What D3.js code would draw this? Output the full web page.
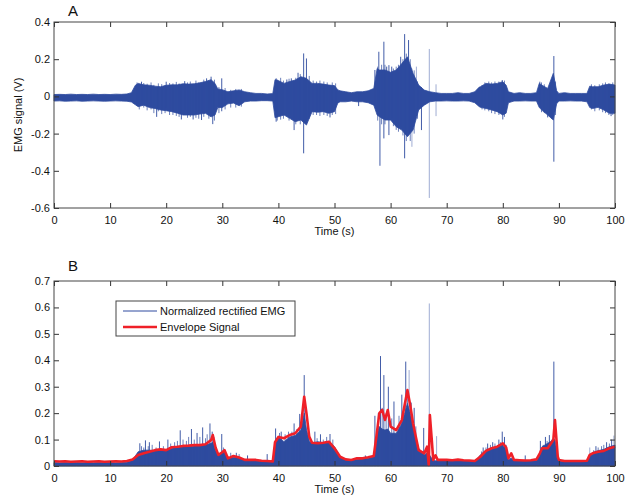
<!DOCTYPE html>
<html>
<head>
<meta charset="utf-8">
<script src="https://cdn.jsdelivr.net/npm/d3@7"></script>
<style>
  body { margin: 0; background: #fff; }
  svg text { font-family: "Liberation Sans", Arial, sans-serif; fill: #111; }
</style>
</head>
<body>
<svg id="chart" width="637" height="500"></svg>
<script>
const timeA = [0,1,2,3,4,5,6,7,8,9,10,11,12,13,13.8,14.5,15,16,17,18,19,20,21,22,23,24,25,26,27,28,28.7,29.2,30,31,32,33,34,35,36,37,38,39,39.4,40,41,42,43,44,45,46,47,48,49,50,50.6,51,52,53,54,55,56,57,57.6,58,59,60,61,62,63,64,65,66,67,68,69,70,71,72,73,74,75,75.8,76,77,78,79,80,80.6,81,82,83,84,85,86,86.5,87,88,89,89.6,90,91,92,93,94,95,95.5,96,97,98,99,100];
const upperA = [0.010,0.011,0.010,0.012,0.010,0.011,0.010,0.012,0.010,0.011,0.010,0.012,0.011,0.013,0.020,0.060,0.070,0.062,0.060,0.055,0.052,0.060,0.062,0.062,0.068,0.066,0.068,0.073,0.080,0.090,0.070,0.040,0.036,0.025,0.030,0.035,0.025,0.020,0.016,0.016,0.013,0.015,0.090,0.085,0.070,0.080,0.088,0.106,0.097,0.070,0.070,0.066,0.061,0.058,0.035,0.030,0.025,0.020,0.025,0.025,0.030,0.043,0.150,0.142,0.142,0.130,0.142,0.177,0.213,0.124,0.061,0.034,0.025,0.020,0.016,0.016,0.016,0.020,0.016,0.016,0.025,0.050,0.052,0.070,0.066,0.070,0.079,0.060,0.025,0.016,0.020,0.016,0.016,0.020,0.070,0.060,0.043,0.124,0.030,0.016,0.020,0.016,0.016,0.016,0.016,0.055,0.052,0.052,0.061,0.066,0.061];
const lowerA = [-0.025,-0.024,-0.026,-0.025,-0.024,-0.026,-0.025,-0.024,-0.025,-0.026,-0.025,-0.024,-0.025,-0.026,-0.030,-0.045,-0.055,-0.047,-0.060,-0.065,-0.073,-0.077,-0.082,-0.090,-0.100,-0.100,-0.100,-0.095,-0.091,-0.110,-0.100,-0.060,-0.060,-0.040,-0.036,-0.050,-0.029,-0.025,-0.025,-0.023,-0.023,-0.025,-0.115,-0.109,-0.100,-0.118,-0.136,-0.127,-0.154,-0.082,-0.085,-0.082,-0.091,-0.082,-0.035,-0.029,-0.029,-0.025,-0.029,-0.029,-0.034,-0.047,-0.100,-0.109,-0.127,-0.127,-0.163,-0.181,-0.217,-0.181,-0.073,-0.047,-0.029,-0.025,-0.025,-0.024,-0.025,-0.025,-0.024,-0.025,-0.034,-0.055,-0.059,-0.065,-0.073,-0.082,-0.100,-0.090,-0.034,-0.025,-0.025,-0.024,-0.025,-0.025,-0.060,-0.075,-0.100,-0.127,-0.040,-0.025,-0.025,-0.024,-0.025,-0.025,-0.029,-0.060,-0.065,-0.059,-0.073,-0.091,-0.091];
// isolated spikes: [time, top, bottom]
const spikesA = [[15.6,0.079,-0.03],[18.3,0.05,-0.11],[20.0,0.079,-0.06],[22.7,0.06,-0.124],[23.3,0.082,-0.07],[24.8,0.06,-0.124],[26.3,0.06,-0.127],[27.2,0.097,-0.08],[28.0,0.106,-0.1],[28.3,0.08,-0.149],[29.9,0.097,-0.08],[39.6,0.097,-0.136],[41.5,0.091,-0.09],[42.3,0.097,-0.1],[42.8,0.08,-0.181],[43.5,0.127,-0.12],[44.5,0.231,-0.306],[45.0,0.204,-0.14],[49.2,0.06,-0.113],[54.3,0.02,-0.052],[57.2,0.142,-0.04],[57.9,0.240,-0.1],[58.1,0.14,-0.373],[58.8,0.294,-0.226],[59.3,0.160,-0.12],[59.7,0.168,-0.208],[60.2,0.160,-0.12],[61.8,0.213,-0.16],[62.5,0.335,-0.333],[63.2,0.303,-0.2],[65.5,0.05,-0.181],[79.9,0.088,-0.08],[80.0,0.07,-0.124],[86.6,0.079,-0.05],[88.0,0.04,-0.113],[89.1,0.217,-0.351],[99.3,0.06,-0.106]];
const faintSpikesA = [[63.8,0.15,-0.271],[64.6,0.160,-0.1],[66.9,0.255,-0.546],[68.1,0.065,-0.106]];
// short hairs sticking out of the dense band
const hairsA = [[14.8,0.075,-0.05],[15.2,0.065,-0.07],[16.0,0.072,-0.06],[16.6,0.068,-0.075],[17.3,0.075,-0.07],[17.8,0.062,-0.09],[18.6,0.07,-0.08],[19.2,0.066,-0.095],[19.8,0.06,-0.09],[20.6,0.072,-0.1],[21.2,0.07,-0.1],[21.8,0.078,-0.105],[22.3,0.07,-0.11],[23.8,0.075,-0.115],[24.3,0.08,-0.11],[25.3,0.085,-0.115],[25.8,0.075,-0.12],[26.7,0.09,-0.11],[27.6,0.085,-0.12],[28.6,0.09,-0.13],[29.4,0.05,-0.09],[30.5,0.045,-0.07],[31.5,0.035,-0.06],[32.4,0.04,-0.06],[33.4,0.04,-0.055],[39.8,0.09,-0.13],[40.4,0.1,-0.125],[40.9,0.085,-0.12],[41.9,0.095,-0.13],[43.1,0.1,-0.15],[43.9,0.12,-0.15],[45.5,0.11,-0.12],[46.2,0.085,-0.1],[46.8,0.08,-0.1],[47.4,0.085,-0.105],[48.1,0.08,-0.1],[48.7,0.075,-0.105],[49.6,0.075,-0.1],[50.2,0.07,-0.095],[57.7,0.16,-0.13],[58.4,0.17,-0.15],[59.0,0.17,-0.15],[60.5,0.15,-0.16],[61.0,0.16,-0.18],[61.4,0.17,-0.19],[62.2,0.2,-0.21],[62.8,0.23,-0.24],[63.5,0.2,-0.24],[64.2,0.14,-0.2],[64.8,0.08,-0.12],[76.3,0.06,-0.07],[76.8,0.075,-0.075],[77.5,0.08,-0.08],[78.0,0.075,-0.09],[78.6,0.08,-0.095],[79.3,0.08,-0.1],[80.3,0.085,-0.11],[86.9,0.075,-0.085],[87.4,0.065,-0.09],[88.4,0.06,-0.11],[88.7,0.09,-0.12],[89.4,0.08,-0.1],[95.8,0.065,-0.07],[96.4,0.06,-0.08],[97.2,0.065,-0.075],[97.8,0.07,-0.085],[98.3,0.075,-0.09],[98.9,0.07,-0.1],[99.6,0.075,-0.1]];
const ticksXA = [0,10,20,30,40,50,60,70,80,90,100];
const ticksYA = [-0.6,-0.4,-0.2,0,0.2,0.4];

// ---- Panel B: rectified EMG (dense top) and envelope ----
const timeB = [0,1,2,3,4,5,6,7,8,9,10,11,12,13,14,15,16,17,18,19,20,21,22,23,24,25,26,27,28,28.3,28.8,29.3,30,30.4,31,32,33,34,35,36,37,38,39,39.4,40,41,42,43,44,44.6,45,45.5,46,47,48,49,50,51,52,53,54,55,56,57,57.5,58,58.5,59,59.5,60,61,62,63,63.5,64,65,66,66.5,66.8,67.0,67.3,67.6,68,68.4,69,70,71,72,73,74,75,76,77,78,79,80,80.6,81,81.5,82,83,84,85,86,86.6,87,88,89,89.3,89.8,90,91,92,93,94,95,95.5,96,97,98,99,100];
const rectB = [0.013,0.012,0.013,0.012,0.013,0.012,0.013,0.012,0.013,0.012,0.013,0.012,0.013,0.014,0.022,0.054,0.060,0.060,0.058,0.058,0.060,0.067,0.070,0.073,0.073,0.076,0.079,0.079,0.086,0.090,0.060,0.045,0.050,0.055,0.028,0.033,0.030,0.023,0.019,0.020,0.019,0.017,0.017,0.090,0.110,0.092,0.110,0.115,0.136,0.200,0.140,0.095,0.086,0.092,0.088,0.092,0.073,0.035,0.023,0.023,0.025,0.029,0.029,0.035,0.110,0.149,0.140,0.136,0.140,0.124,0.124,0.161,0.237,0.200,0.149,0.067,0.042,0.050,0.020,0.040,0.030,0.022,0.020,0.020,0.019,0.023,0.020,0.022,0.020,0.019,0.016,0.042,0.060,0.067,0.073,0.079,0.060,0.023,0.030,0.020,0.019,0.019,0.019,0.022,0.040,0.073,0.086,0.098,0.100,0.030,0.020,0.016,0.016,0.017,0.016,0.016,0.040,0.051,0.058,0.063,0.073,0.079];
const envB = [0.018,0.017,0.018,0.016,0.017,0.018,0.016,0.017,0.018,0.016,0.017,0.018,0.017,0.019,0.025,0.042,0.048,0.054,0.060,0.063,0.060,0.071,0.073,0.076,0.077,0.079,0.079,0.082,0.098,0.117,0.070,0.042,0.052,0.060,0.029,0.038,0.032,0.023,0.023,0.023,0.020,0.019,0.017,0.090,0.110,0.105,0.117,0.124,0.149,0.262,0.200,0.111,0.088,0.086,0.088,0.092,0.067,0.035,0.025,0.023,0.029,0.029,0.033,0.038,0.117,0.200,0.212,0.174,0.212,0.149,0.136,0.174,0.287,0.230,0.161,0.060,0.048,0.073,0.004,0.193,0.110,0.023,0.040,0.023,0.023,0.023,0.022,0.024,0.022,0.021,0.019,0.035,0.057,0.067,0.073,0.086,0.070,0.029,0.048,0.023,0.022,0.021,0.022,0.025,0.048,0.067,0.067,0.098,0.174,0.035,0.023,0.019,0.019,0.019,0.019,0.020,0.042,0.048,0.054,0.057,0.067,0.073];
// isolated spikes above the dense part: [time, top]
const spikesB = [[15.3,0.086],[16.3,0.097],[17.0,0.09],[18.8,0.093],[20.3,0.10],[22.5,0.135],[24.5,0.14],[25.5,0.125],[26.5,0.146],[27.8,0.161],[28.2,0.13],[29.9,0.121],[32.5,0.05],[34.5,0.04],[38.0,0.045],[39.5,0.142],[40.5,0.13],[42.8,0.161],[43.8,0.197],[44.6,0.344],[46.5,0.13],[47.5,0.12],[49.2,0.121],[55.5,0.04],[57.2,0.19],[58.2,0.416],[58.8,0.344],[59.6,0.30],[60.6,0.244],[62.0,0.27],[62.7,0.395],[64.2,0.22],[65.9,0.144],[76.5,0.07],[77.3,0.085],[78.2,0.09],[79.3,0.10],[79.9,0.13],[80.3,0.11],[84.0,0.04],[86.7,0.095],[87.6,0.11],[88.3,0.117],[89.1,0.395],[96.6,0.075],[98.5,0.09],[99.4,0.10]];
const faintSpikesB = [[63.3,0.363],[66.9,0.615],[68.2,0.113],[95.5,0.07],[99.8,0.115]];
const hairsB = [[15.6,0.075],[16.0,0.07],[16.8,0.075],[17.5,0.08],[18.2,0.07],[19.5,0.075],[20.8,0.085],[21.5,0.09],[22.0,0.095],[23.0,0.1],[23.6,0.095],[24.0,0.11],[25.0,0.1],[26.0,0.11],[27.0,0.105],[27.3,0.12],[28.5,0.11],[30.2,0.07],[31.5,0.05],[33.0,0.045],[40.2,0.125],[41.2,0.12],[41.8,0.13],[42.4,0.13],[43.3,0.14],[44.2,0.16],[45.3,0.12],[45.9,0.1],[46.9,0.105],[48.0,0.1],[48.6,0.11],[49.7,0.1],[57.8,0.2],[58.5,0.22],[59.2,0.2],[60.2,0.18],[61.5,0.19],[62.3,0.22],[63.0,0.26],[63.7,0.24],[64.5,0.15],[76.2,0.055],[77.0,0.07],[77.8,0.08],[78.6,0.085],[79.6,0.09],[80.6,0.08],[87.2,0.08],[87.9,0.095],[88.7,0.1],[96.2,0.06],[97.0,0.07],[97.6,0.075],[98.0,0.08],[99.0,0.085]];
const ticksXB = [0,10,20,30,40,50,60,70,80,90,100];
const ticksYB = [0,0.1,0.2,0.3,0.4,0.5,0.6,0.7];
const legendLabels = ['Normalized rectified EMG', 'Envelope Signal'];

const emgBlue = '#2e4b9f';
const envRed = '#ef2028';

const svg = d3.select('#chart');

// frame with inward ticks on all four sides, MATLAB style
function drawFrame(x, y, xTicks, yTicks, xLabel) {
  const g = svg.append('g');
  const [x0, x1] = x.range();
  const [y0, y1] = y.range();
  const fmt = d => String(d);

  g.append('g').attr('transform', `translate(0,${y0})`)
    .call(d3.axisBottom(x).tickValues(xTicks).tickFormat(fmt).tickSize(-5).tickSizeOuter(0).tickPadding(8));
  g.append('g').attr('transform', `translate(0,${y1})`)
    .call(d3.axisTop(x).tickValues(xTicks).tickFormat('').tickSize(-5).tickSizeOuter(0));
  g.append('g').attr('transform', `translate(${x0},0)`)
    .call(d3.axisLeft(y).tickValues(yTicks).tickFormat(fmt).tickSize(-5).tickSizeOuter(0).tickPadding(4));
  g.append('g').attr('transform', `translate(${x1},0)`)
    .call(d3.axisRight(y).tickValues(yTicks).tickFormat('').tickSize(-5).tickSizeOuter(0));

  g.selectAll('.domain').remove();
  g.selectAll('.tick line').attr('stroke', '#333');
  g.selectAll('.tick text').attr('font-size', 11).attr('fill', '#111');

  g.append('rect')
    .attr('x', x0).attr('y', y1)
    .attr('width', x1 - x0).attr('height', y0 - y1)
    .attr('fill', 'none').attr('stroke', '#444').attr('stroke-width', 1);

  g.append('text')
    .attr('x', (x0 + x1) / 2).attr('y', y0 + 27)
    .attr('text-anchor', 'middle').attr('font-size', 11)
    .text(xLabel);
  return g;
}

function drawSpikes(g, rows, x, y, top, bottom, opacity) {
  g.selectAll(null)
    .data(rows)
    .join('line')
      .attr('x1', d => x(d[0])).attr('x2', d => x(d[0]))
      .attr('y1', d => y(top(d))).attr('y2', d => y(bottom(d)))
      .attr('stroke', emgBlue).attr('stroke-width', 1)
      .attr('opacity', opacity);
}

// ---------- Panel A ----------
const xA = d3.scaleLinear().domain([0, 100]).range([54, 615]);
const yA = d3.scaleLinear().domain([-0.6, 0.4]).range([208, 22]);
const rowsA = timeA.map((t, i) => ({ t, hi: upperA[i], lo: lowerA[i] }));

const gA = svg.append('g');
gA.append('path')
  .datum(rowsA)
  .attr('d', d3.area().x(d => xA(d.t)).y0(d => yA(d.lo)).y1(d => yA(d.hi)))
  .attr('fill', emgBlue).attr('stroke', emgBlue).attr('stroke-width', 0.8);
drawSpikes(gA, hairsA, xA, yA, d => d[1], d => d[2], 0.7);
drawSpikes(gA, spikesA, xA, yA, d => d[1], d => d[2], 0.9);
drawSpikes(gA, faintSpikesA, xA, yA, d => d[1], d => d[2], 0.45);

drawFrame(xA, yA, ticksXA, ticksYA, 'Time (s)');

svg.append('text')
  .attr('transform', `translate(22,${(22 + 208) / 2}) rotate(-90)`)
  .attr('text-anchor', 'middle').attr('font-size', 11)
  .text('EMG signal (V)');

svg.append('text').attr('x', 68).attr('y', 16).attr('font-size', 15).text('A');

// ---------- Panel B ----------
const xB = d3.scaleLinear().domain([0, 100]).range([54, 615]);
const yB = d3.scaleLinear().domain([0, 0.7]).range([466, 281]);
const rowsB = timeB.map((t, i) => ({ t, rect: rectB[i], env: envB[i] }));

const gB = svg.append('g');
gB.append('path')
  .datum(rowsB)
  .attr('d', d3.area().x(d => xB(d.t)).y0(yB(0)).y1(d => yB(d.rect)))
  .attr('fill', emgBlue).attr('stroke', emgBlue).attr('stroke-width', 0.8);
drawSpikes(gB, hairsB, xB, yB, d => d[1], d => 0, 0.7);
drawSpikes(gB, spikesB, xB, yB, d => d[1], d => 0, 0.9);
drawSpikes(gB, faintSpikesB, xB, yB, d => d[1], d => 0, 0.45);

gB.append('path')
  .datum(rowsB)
  .attr('d', d3.line().x(d => xB(d.t)).y(d => yB(d.env)))
  .attr('fill', 'none').attr('stroke', envRed).attr('stroke-width', 2.6)
  .attr('stroke-linejoin', 'round');

drawFrame(xB, yB, ticksXB, ticksYB, 'Time (s)');

svg.append('text').attr('x', 68).attr('y', 271).attr('font-size', 15).text('B');

// legend
const legend = svg.append('g').attr('transform', 'translate(116,301)');
legend.append('rect')
  .attr('width', 179).attr('height', 35)
  .attr('fill', '#fff').attr('stroke', '#444').attr('stroke-width', 1);
const legendRows = legend.selectAll('.legend-row')
  .data(legendLabels)
  .join('g')
    .attr('class', 'legend-row')
    .attr('transform', (d, i) => `translate(0,${10 + i * 16})`);
legendRows.append('line')
  .attr('x1', 7).attr('x2', 41)
  .attr('stroke', (d, i) => i === 0 ? emgBlue : envRed)
  .attr('stroke-width', (d, i) => i === 0 ? 1 : 2.6);
legendRows.append('text')
  .attr('x', 44).attr('y', 4)
  .attr('font-size', 11)
  .text(d => d);
</script>
</body>
</html>
